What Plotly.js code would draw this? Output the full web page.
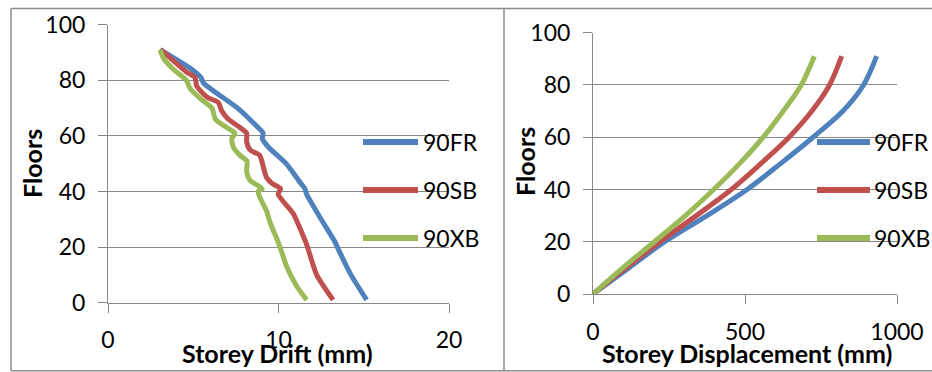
<!DOCTYPE html>
<html>
<head>
<meta charset="utf-8">
<script src="https://cdn.plot.ly/plotly-3.0.1.min.js"></script>
<style>
html,body{margin:0;padding:0;background:#fff;}
#chart{width:932px;height:372px;}
</style>
</head>
<body>
<div id="chart"></div>
<script>
// ---- data ----
const seriesNames = ["90FR", "90SB", "90XB"];
const seriesColors = ["#4F81BD", "#C0504D", "#9BBB59"];

// Left: storey drift (mm) vs floor
const driftFloorsFR = [1, 10, 20, 22, 30, 39, 41, 43, 50, 56, 59, 61, 63, 70, 79, 81, 84, 91];
const driftFR = [15.17, 14.25, 13.45, 13.3, 12.5, 11.65, 11.55, 11.3, 10.45, 9.4, 9.05, 9.1, 8.8, 7.6, 5.6, 5.45, 4.9, 3.05];
const driftFloorsSB = [1, 10, 21, 24, 32, 39, 41, 43, 45, 49, 53, 55, 58, 61, 63, 66, 69, 72, 74, 78, 81, 83, 91];
const driftSB = [13.2, 12.24, 11.65, 11.45, 10.87, 9.98, 10.12, 9.6, 9.3, 9.1, 8.9, 8.33, 8.13, 8.13, 7.74, 7.06, 6.67, 6.47, 5.79, 5.2, 5.1, 4.6, 3.1];
const driftFloorsXB = [1, 6, 13, 20, 23, 29, 33, 38, 40, 41, 44, 47, 51, 53, 56, 59, 61, 63, 66, 70, 73, 77, 80, 84, 88, 91];
const driftXB = [11.65, 11.06, 10.48, 10.09, 9.9, 9.5, 9.3, 8.9, 8.8, 9.05, 8.33, 8.13, 8.15, 7.74, 7.35, 7.26, 7.45, 6.96, 6.3, 6.1, 5.5, 4.82, 4.6, 3.83, 3.25, 3.05];

// Right: storey displacement (mm) vs floor
const dispFloors = [0, 10, 20, 30, 40, 50, 60, 70, 80, 91];
const dispFR = [0, 118, 236, 375, 507, 618, 724, 822, 890, 933];
const dispSB = [0, 108, 220, 340, 455, 553, 645, 720, 778, 818];
const dispXB = [0, 98, 202, 304, 397, 483, 560, 626, 685, 728];

// axis ticks
const driftTicks = [0, 10, 20];
const dispTicks = [0, 500, 1000];
const floorTicks = [0, 20, 40, 60, 80, 100];

const xTitleLeft = "Storey Drift (mm)";
const xTitleRight = "Storey Displacement (mm)";
const yTitle = "Floors";

// ---- layout helpers ----
const W = 932, H = 372;
const px = v => v / W;
const py = v => 1 - v / H;
const FONT = "Lato, 'Open Sans', sans-serif";
const GRID = "#878787";
const TICK_SIZE = 23;

const drift = [[driftFR, driftFloorsFR], [driftSB, driftFloorsSB], [driftXB, driftFloorsXB]];
const disp = [dispFR, dispSB, dispXB];

const traces = [];
drift.forEach((d, i) => traces.push({
  x: d[0], y: d[1], type: "scatter", mode: "lines", name: seriesNames[i],
  line: {color: seriesColors[i], width: 5, shape: "spline", smoothing: 0.6},
  xaxis: "x", yaxis: "y", showlegend: false, hoverinfo: "skip"
}));
disp.forEach((d, i) => traces.push({
  x: d, y: dispFloors, type: "scatter", mode: "lines", name: seriesNames[i],
  line: {color: seriesColors[i], width: 5, shape: "spline", smoothing: 1},
  xaxis: "x2", yaxis: "y2", showlegend: false, hoverinfo: "skip"
}));

function xAxis(dom, range, ticks, anchor) {
  return {
    domain: dom, range: range, tickvals: ticks, ticktext: ticks.map(String),
    showgrid: false, zeroline: false, showline: true, linecolor: GRID, linewidth: 1,
    ticks: "outside", ticklen: 9, tickcolor: GRID, tickwidth: 1,
    tickfont: {family: FONT, size: TICK_SIZE, color: "#000"}, ticklabelstandoff: 8,
    anchor: anchor, fixedrange: true
  };
}
function yAxis(dom, anchor) {
  return {
    domain: dom, range: [0, 100], tickvals: floorTicks, ticktext: floorTicks.map(String),
    showgrid: true, gridcolor: GRID, gridwidth: 1,
    zeroline: false, showline: true, linecolor: GRID, linewidth: 1,
    ticks: "outside", ticklen: 9, tickcolor: GRID, tickwidth: 1,
    tickfont: {family: FONT, size: TICK_SIZE, color: "#000"}, ticklabelstandoff: 8,
    anchor: anchor, fixedrange: true
  };
}

const shapes = [];
const annotations = [];
const frameStyle = {color: "#8c8c8c", width: 1.5};
// frame
shapes.push({type: "line", xref: "paper", yref: "paper", x0: px(11), x1: px(932), y0: py(8.5), y1: py(8.5), line: frameStyle});
shapes.push({type: "line", xref: "paper", yref: "paper", x0: px(11), x1: px(932), y0: py(370.7), y1: py(370.7), line: frameStyle});
shapes.push({type: "line", xref: "paper", yref: "paper", x0: px(11), x1: px(11), y0: py(8.5), y1: py(370.7), line: frameStyle});
shapes.push({type: "line", xref: "paper", yref: "paper", x0: px(504), x1: px(504), y0: py(8.5), y1: py(370.7), line: frameStyle});

// legends
const legY = [142, 190, 238];
[[363, 418, 421], [817, 870, 872]].forEach(([lx0, lx1, tx]) => {
  seriesNames.forEach((n, i) => {
    shapes.push({type: "line", xref: "paper", yref: "paper", x0: px(lx0), x1: px(lx1), y0: py(legY[i]), y1: py(legY[i]),
      line: {color: seriesColors[i], width: 6}});
    annotations.push({xref: "paper", yref: "paper", x: px(tx), y: py(legY[i]), xanchor: "left", yanchor: "middle",
      text: n, showarrow: false, font: {family: FONT, size: TICK_SIZE, color: "#000"}});
  });
});

// axis titles
const titleFont = {family: FONT, size: 25, color: "#000", weight: "bold"};
annotations.push({xref: "paper", yref: "paper", x: px(277.5), y: py(353), xanchor: "center", yanchor: "middle",
  text: "<b>" + xTitleLeft + "</b>", showarrow: false, font: titleFont});
annotations.push({xref: "paper", yref: "paper", x: px(747), y: py(353), xanchor: "center", yanchor: "middle",
  text: "<b>" + xTitleRight + "</b>", showarrow: false, font: titleFont});
annotations.push({xref: "paper", yref: "paper", x: px(32), y: py(164), xanchor: "center", yanchor: "middle",
  text: "<b>" + yTitle + "</b>", showarrow: false, textangle: -90, font: titleFont});
annotations.push({xref: "paper", yref: "paper", x: px(525), y: py(162), xanchor: "center", yanchor: "middle",
  text: "<b>" + yTitle + "</b>", showarrow: false, textangle: -90, font: titleFont});

const layout = {
  width: W, height: H, margin: {l: 0, r: 0, t: 0, b: 0},
  paper_bgcolor: "#fff", plot_bgcolor: "rgba(0,0,0,0)",
  showlegend: false,
  xaxis: xAxis([px(108), px(449)], [0, 20], driftTicks, "y"),
  yaxis: yAxis([py(302.7), py(24.7)], "x"),
  xaxis2: xAxis([px(593), px(897)], [0, 1000], dispTicks, "y2"),
  yaxis2: yAxis([py(294), py(32.7)], "x2"),
  shapes: shapes, annotations: annotations
};

Plotly.newPlot("chart", traces, layout, {displayModeBar: false, staticPlot: true});
</script>
</body>
</html>
